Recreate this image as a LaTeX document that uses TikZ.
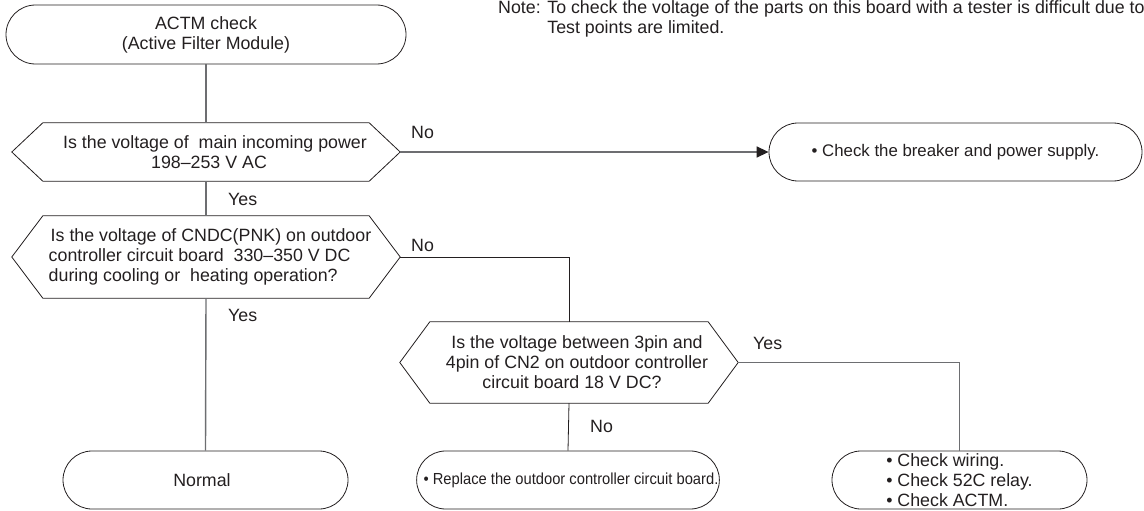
\documentclass[tikz,border=0pt]{standalone}
\usepackage{fontspec}
\setmainfont{Liberation Sans}
\newfontfamily\narrowfont{Liberation Sans}[FakeStretch=0.92]
\usetikzlibrary{shapes.misc,arrows.meta,calc}
\definecolor{ink}{HTML}{231F20}
\definecolor{wire}{HTML}{6D6E71}
\begin{document}
\begin{tikzpicture}[x=1pt,y=-1pt,
  every node/.style={text=ink,font=\fontsize{17.8}{20}\selectfont},
  term/.style={rounded rectangle,draw=ink,line width=0.8pt,minimum height=58pt,inner sep=0pt},
  dec/.style={rectangle,inner sep=0pt,minimum height=#1},
  conn/.style={draw=wire,line width=1.4pt},
  connd/.style={draw=ink,line width=0.8pt},
  lbl/.style={anchor=base west,inner sep=0pt},
  hex/.style={draw=ink,line width=0.8pt}]
\useasboundingbox (0,0) rectangle (1144,511);
% terminals
\node[term,minimum width=400pt,minimum height=59pt,align=center] (start) at (206,34.5) {ACTM check\\(Active Filter Module)};
\node[term,minimum width=373pt,font=\fontsize{16.8}{19}\selectfont] (breaker) at (955.5,152) {\textbullet\ Check the breaker and power supply.};
\node[term,minimum width=285pt] (normal) at (205.5,480) {\hspace*{-7pt}Normal};
\node[term,minimum width=300pt] (replace) at (568,480) {\narrowfont\fontsize{16}{19}\selectfont\hspace*{6pt}\textbullet\ Replace the outdoor controller circuit board.};
\node[term,minimum width=255pt,align=left] (checks) at (959.5,480) {\textbullet\ Check wiring.\\\textbullet\ Check 52C relay.\\\textbullet\ Check ACTM.};
% decisions
\node[dec=58pt,minimum width=388pt,align=center] (d1) at (206,152) {\hspace*{18pt}Is the voltage of\ \ main incoming power\\\hspace*{6pt}198--253 V AC};
\node[dec=82pt,minimum width=388pt,align=left] (d2) at (206,257) {\hspace*{10pt}Is the voltage of CNDC(PNK) on outdoor\\\hspace*{8pt}controller circuit board\ \ 330--350 V DC\\\hspace*{8pt}during cooling or\ \ heating operation?};
\node[dec=81pt,minimum width=338pt,align=center] (d3) at (569,362.5) {\hspace*{16pt}Is the voltage between 3pin and\\\hspace*{16pt}4pin of CN2 on outdoor controller\\\hspace*{6pt}circuit board 18 V DC?};
\foreach \n/\c in {d1/31,d2/31,d3/30}{
  \draw[hex] (\n.west) -- ($(\n.north west)+(\c,0)$) -- ($(\n.north east)+(-\c,0)$) -- (\n.east)
    -- ($(\n.south east)+(-\c,0)$) -- ($(\n.south west)+(\c,0)$) -- cycle;
}
% note
\node[lbl,align=left] (note) at (498,34) {Note: To check the voltage of the parts on this board with a tester is difficult due to\\\phantom{Note: }Test points are limited.};
% connectors
\draw[conn] (start.south) -- (d1.north);
\draw[conn] (d1.south) -- (d2.north);
\draw[conn] (d2.south) -- (normal.north);
\draw[conn,-{Triangle[length=12pt,width=11pt,color=ink]}] (d1.east) -- (breaker.west);
\draw[connd] (d2.east) -| (d3.north);
\draw[connd] (d3.south) -- (replace.north);
\draw[conn] (d3.east) -| (checks.north);
% labels
\node[lbl] (l1) at (411,139) {No};
\node[lbl] (l2) at (228,205) {Yes};
\node[lbl] (l3) at (411,251) {No};
\node[lbl] (l4) at (228,321) {Yes};
\node[lbl] (l5) at (753,349) {Yes};
\node[lbl] (l6) at (590,432) {No};
\end{tikzpicture}
\end{document}
